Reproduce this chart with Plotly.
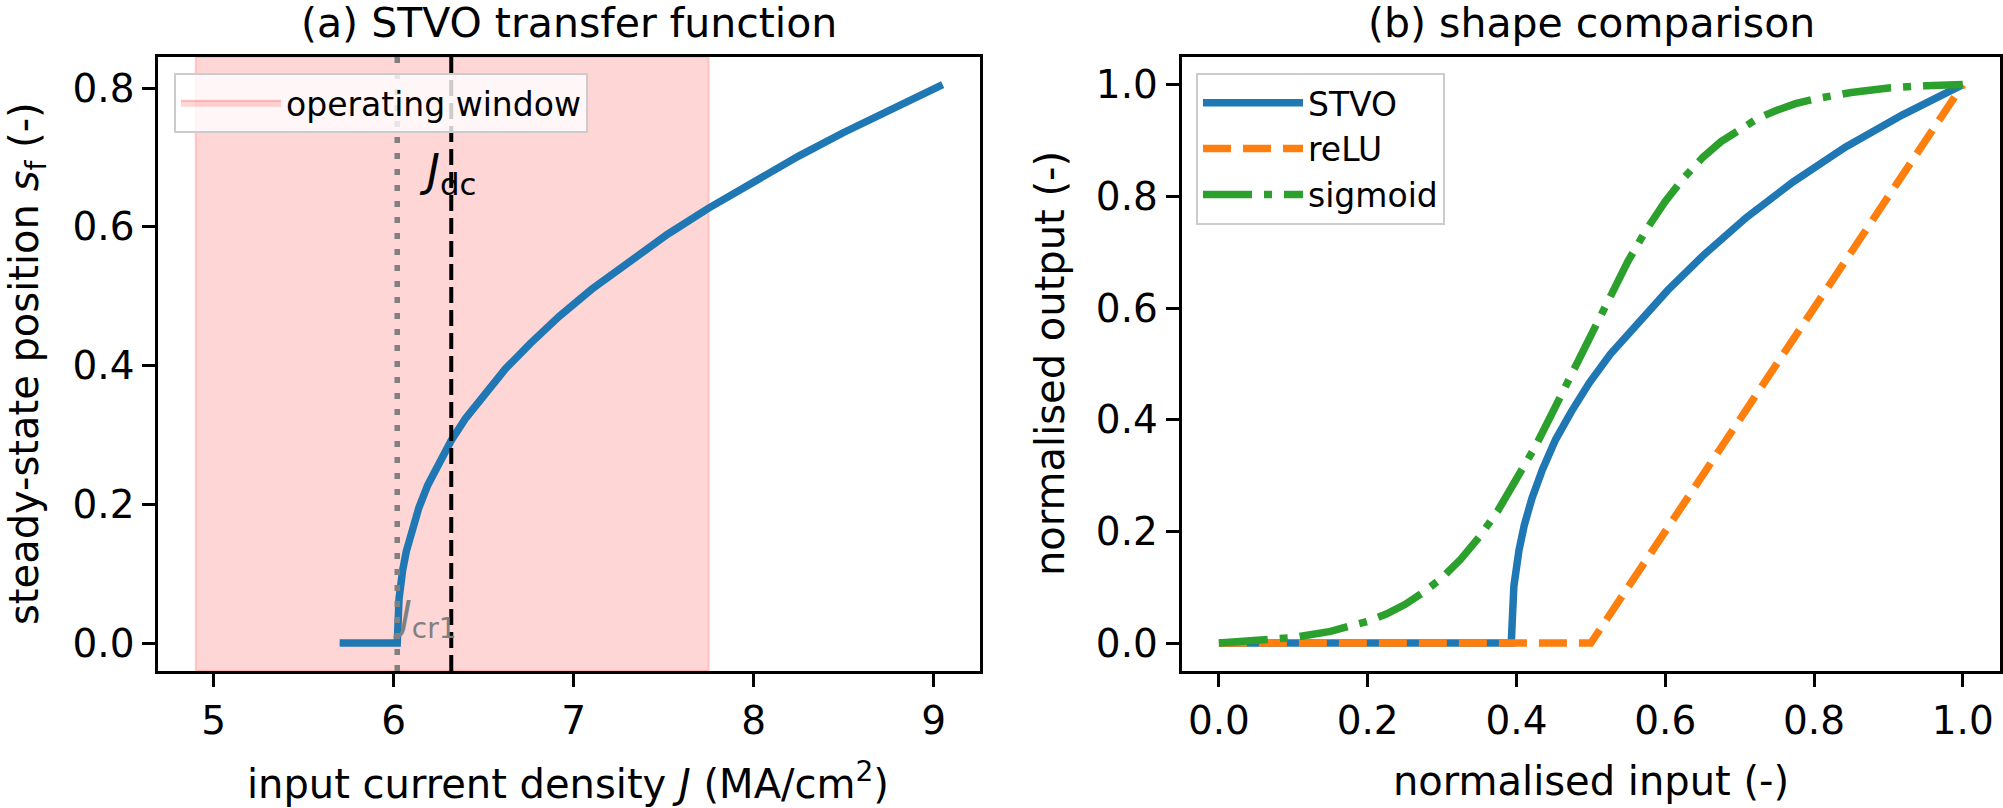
import plotly.graph_objects as go

# ---------------- data ----------------
# (a) STVO transfer function
J_stvo = [5.70, 6.02, 6.03, 6.04, 6.05, 6.07, 6.10, 6.14, 6.19, 6.25, 6.32, 6.40, 6.50,
          6.62, 6.76, 6.92, 7.10, 7.30, 7.52, 7.75, 8.00, 8.25, 8.50, 8.75, 8.90, 9.05]
s_stvo = [0.000, 0.000, 0.064, 0.088, 0.105, 0.132, 0.163, 0.195, 0.228, 0.260, 0.292,
          0.324, 0.358, 0.395, 0.432, 0.471, 0.510, 0.549, 0.589, 0.627, 0.666, 0.702,
          0.736, 0.768, 0.787, 0.805]
J_CR1 = 6.02
J_DC = 6.32
WINDOW = [4.90, 7.75]

# (b) shape comparison
x_stvo_n = [0.000, 0.393, 0.3965, 0.400, 0.4035, 0.4105, 0.421, 0.435, 0.4525, 0.474,
            0.498, 0.526, 0.561, 0.6035, 0.6525, 0.709, 0.772, 0.842, 0.919, 1.000]
y_stvo_n = [0.000, 0.000, 0.102, 0.140, 0.167, 0.211, 0.260, 0.311, 0.364, 0.415,
            0.466, 0.517, 0.571, 0.632, 0.696, 0.762, 0.826, 0.888, 0.946, 1.000]
x_relu = [0.0, 0.5, 1.0]
y_relu = [0.0, 0.0, 1.0]
x_sig = [0.000, 0.050, 0.100, 0.150, 0.200, 0.225, 0.250, 0.275, 0.300, 0.325, 0.350,
         0.375, 0.400, 0.425, 0.450, 0.475, 0.500, 0.525, 0.550, 0.575, 0.600, 0.625,
         0.650, 0.675, 0.700, 0.725, 0.750, 0.775, 0.800, 0.825, 0.850, 0.875, 0.900,
         0.950, 1.000]
y_sig = [0.000, 0.004, 0.010, 0.021, 0.039, 0.052, 0.069, 0.091, 0.117, 0.150, 0.190,
         0.237, 0.291, 0.351, 0.417, 0.485, 0.554, 0.621, 0.684, 0.741, 0.791, 0.833,
         0.869, 0.898, 0.921, 0.940, 0.954, 0.966, 0.974, 0.981, 0.986, 0.990, 0.994,
         0.998, 1.000]

xticks_a = [5, 6, 7, 8, 9]
yticks_a = [0.0, 0.2, 0.4, 0.6, 0.8]
ticks_b = [0.0, 0.2, 0.4, 0.6, 0.8, 1.0]

# ---------------- styling ----------------
W, H = 2003, 808
FONT = "DejaVu Sans"
BLUE, ORANGE, GREEN = "#1f77b4", "#ff7f0e", "#2ca02c"
LW = 7.5


def px(x):
    return x / W


def py(y):
    return 1 - y / H


fig = go.Figure()

# operating window (legend entry)
fig.add_trace(go.Scatter(
    x=[None], y=[None], mode="lines", fill="toself",
    fillcolor="rgba(255,0,0,0.16)", line=dict(color="rgba(255,0,0,0.22)", width=2),
    name="operating window", legend="legend", xaxis="x", yaxis="y"))

fig.add_trace(go.Scatter(
    x=J_stvo, y=s_stvo, mode="lines", line=dict(color=BLUE, width=LW),
    showlegend=False, xaxis="x", yaxis="y"))

fig.add_trace(go.Scatter(
    x=x_stvo_n, y=y_stvo_n, mode="lines", line=dict(color=BLUE, width=LW),
    name="STVO", legend="legend2", xaxis="x2", yaxis="y2"))
fig.add_trace(go.Scatter(
    x=x_relu, y=y_relu, mode="lines",
    line=dict(color=ORANGE, width=LW, dash="28px,12px"),
    name="reLU", legend="legend2", xaxis="x2", yaxis="y2"))
fig.add_trace(go.Scatter(
    x=x_sig, y=y_sig, mode="lines",
    line=dict(color=GREEN, width=LW, dash="49px,12px,8px,12px"),
    name="sigmoid", legend="legend2", xaxis="x2", yaxis="y2"))

shapes = [
    dict(type="rect", xref="x", yref="y domain", x0=WINDOW[0], x1=WINDOW[1], y0=0, y1=1,
         fillcolor="rgba(255,0,0,0.16)", line=dict(color="rgba(255,0,0,0.16)", width=2),
         layer="below"),
    dict(type="line", xref="x", yref="y domain", x0=J_CR1, x1=J_CR1, y0=0, y1=1,
         line=dict(color="#808080", width=5.5, dash="6px,10px"), layer="above"),
    dict(type="line", xref="x", yref="y domain", x0=J_DC, x1=J_DC, y0=0, y1=1,
         line=dict(color="black", width=4, dash="16px,7px"), layer="above"),
]

ann = [
    dict(text="(a) STVO transfer function", x=px(569), y=py(23), font=dict(size=41)),
    dict(text="(b) shape comparison", x=px(1591), y=py(23), font=dict(size=41)),
    dict(text="input current density <i>J</i> (MA/cm<sup>2</sup>)", x=px(568), y=py(781),
         font=dict(size=40)),
    dict(text="normalised input (-)", x=px(1591), y=py(781), font=dict(size=40)),
    dict(text="steady-state position <i>s</i><sub>f</sub> (-)", x=px(27), y=py(364),
         textangle=-90, font=dict(size=40)),
    dict(text="normalised output (-)", x=px(1050), y=py(364), textangle=-90,
         font=dict(size=40)),
]
for a in ann:
    a.update(xref="paper", yref="paper", showarrow=False, xanchor="center",
             yanchor="middle")
    a["font"].update(family=FONT, color="black")

ann += [
    dict(text="<i>J</i><sub>dc</sub>", x=J_DC, y=0.677, xref="x", yref="y",
         showarrow=False, xanchor="center", yanchor="middle", xshift=-4,
         font=dict(family=FONT, size=44, color="black")),
    dict(text="<i>J</i><sub>cr1</sub>", x=J_CR1, y=0.035, xref="x", yref="y",
         showarrow=False, xanchor="left", yanchor="middle", xshift=-6,
         font=dict(family=FONT, size=40, color="#808080")),
]

axis_common = dict(showgrid=False, zeroline=False, showline=True, mirror=True,
                   linecolor="black", linewidth=3, ticks="outside", ticklen=13,
                   tickwidth=3, tickcolor="black",
                   tickfont=dict(family=FONT, size=39, color="black"))

ydom = [py(671), py(56.7)]
legend_common = dict(xanchor="left", yanchor="top", itemwidth=100,
                     bgcolor="rgba(255,255,255,0.8)", bordercolor="#cccccc",
                     borderwidth=2, font=dict(family=FONT, size=33, color="black"))
fig.update_layout(
    width=W, height=H, margin=dict(l=0, r=0, t=0, b=0),
    paper_bgcolor="white", plot_bgcolor="white",
    font=dict(family=FONT, color="black"),
    xaxis=dict(domain=[px(158.3), px(980)], range=[4.6925, 9.2575], tickvals=xticks_a,
               anchor="y", **axis_common),
    yaxis=dict(domain=ydom, range=[-0.04025, 0.84525], tickvals=yticks_a,
               tickformat=".1f", anchor="x", **axis_common),
    xaxis2=dict(domain=[px(1181.7), px(2000)], range=[-0.05, 1.05], tickvals=ticks_b,
                tickformat=".1f", anchor="y2", **axis_common),
    yaxis2=dict(domain=ydom, range=[-0.05, 1.05], tickvals=ticks_b,
                tickformat=".1f", anchor="x2", **axis_common),
    legend=dict(x=px(174), y=py(72.7), **legend_common),
    legend2=dict(x=px(1196), y=py(72.7), **legend_common),
    shapes=shapes, annotations=ann,
)

fig.write_html("out.html")
